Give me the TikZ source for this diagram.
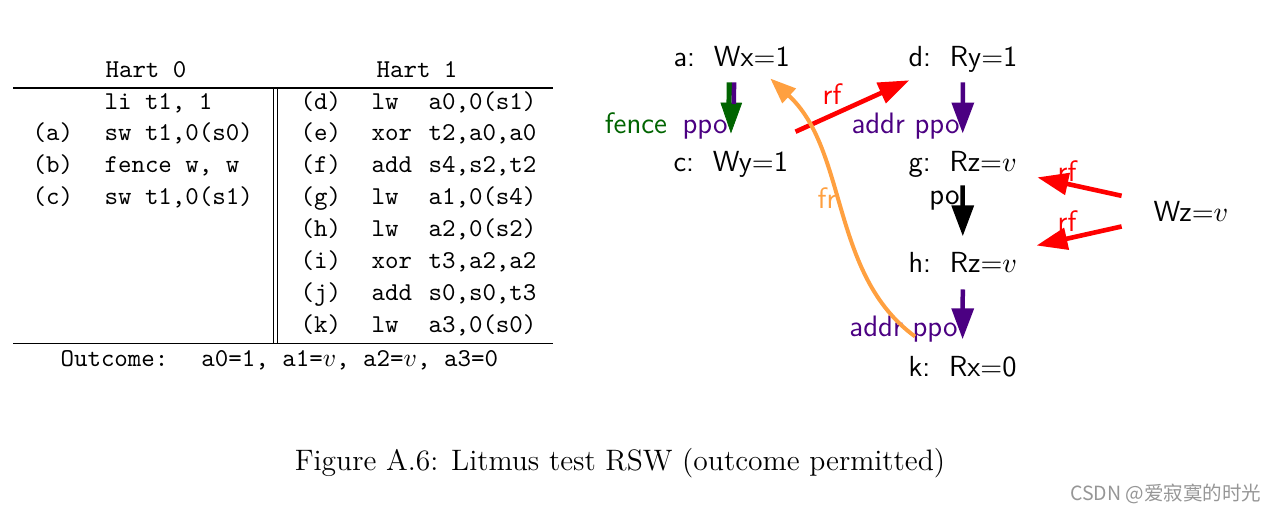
\documentclass[tikz,border=0pt]{standalone}
\usepackage{fontspec}
\newfontfamily\cjk{Noto Sans CJK SC}
\usetikzlibrary{arrows.meta}
\definecolor{fgreen}{RGB}{0,100,0}
\definecolor{ppurple}{RGB}{75,0,130}
\definecolor{forange}{RGB}{255,160,64}
\definecolor{wmgray}{RGB}{150,150,150}
\newcommand{\eq}{\ensuremath{\mathord{=}}}
\begin{document}
\begin{tikzpicture}[x=0.389pt,y=-0.389pt,
  tt/.style={anchor=base west,inner sep=0pt,font=\ttfamily},
  ev/.style={anchor=base west,inner sep=0pt,font=\fontsize{11.3}{13.5}\selectfont\sffamily,text height=7.8pt,text depth=0pt},
  lbl/.style={inner sep=0pt,font=\fontsize{11.5}{13.8}\selectfont\sffamily},
  hd/.style={-{Triangle[length=12pt,width=8.4pt]}},
  shaft/.style={line width=1.75pt},
  rfarrow/.style={red,line width=1.8pt,hd},
  pparrow/.style={ppurple,shaft,hd},
  poarrow/.style={black,shaft,hd},
  frarrow/.style={forange,line width=1.55pt,-{Triangle[length=10pt,width=7.5pt]}},
  rule/.style={line width=0.4pt}]
\useasboundingbox (0,0) rectangle (1277,513);

% ---------- table ----------
\node[tt,anchor=base] (h0) at (146,77) {Hart 0};
\node[tt,anchor=base] (h1) at (417,77) {Hart 1};
\draw[rule] (13,88) -- (553,88);
\draw[rule] (13,343) -- (553,343);
\draw[rule] (273.5,88) -- (273.5,343);
\draw[rule] (277.5,88) -- (277.5,343);

\node[tt] (l0) at (104,109) {li t1, 1};
\node[tt] (la) at (32,140.9) {(a)};
\node[tt] (l1) at (104,140.9) {sw t1,0(s0)};
\node[tt] (lb) at (32,172.8) {(b)};
\node[tt] (l2) at (104,172.8) {fence w, w};
\node[tt] (lc) at (32,204.7) {(c)};
\node[tt] (l3) at (104,204.7) {sw t1,0(s1)};

\node[tt] (rd) at (300,109) {(d)};
\node[tt] (md) at (371,109) {lw};
\node[tt] (od) at (428,109) {a0,0(s1)};
\node[tt] (re) at (300,140.9) {(e)};
\node[tt] (me) at (371,140.9) {xor};
\node[tt] (oe) at (428,140.9) {t2,a0,a0};
\node[tt] (rf) at (300,172.8) {(f)};
\node[tt] (mf) at (371,172.8) {add};
\node[tt] (of) at (428,172.8) {s4,s2,t2};
\node[tt] (rg) at (300,204.7) {(g)};
\node[tt] (mg) at (371,204.7) {lw};
\node[tt] (og) at (428,204.7) {a1,0(s4)};
\node[tt] (rh) at (300,236.6) {(h)};
\node[tt] (mh) at (371,236.6) {lw};
\node[tt] (oh) at (428,236.6) {a2,0(s2)};
\node[tt] (ri) at (300,268.5) {(i)};
\node[tt] (mi) at (371,268.5) {xor};
\node[tt] (oi) at (428,268.5) {t3,a2,a2};
\node[tt] (rj) at (300,300.4) {(j)};
\node[tt] (mj) at (371,300.4) {add};
\node[tt] (oj) at (428,300.4) {s0,s0,t3};
\node[tt] (rk) at (300,332.3) {(k)};
\node[tt] (mk) at (371,332.3) {lw};
\node[tt] (ok) at (428,332.3) {a3,0(s0)};

\node[tt] (out) at (60,366) {Outcome:\hspace{12.8pt}a0=1, a1=$v$, a2=$v$, a3=0};

% ---------- graph ----------
\node[ev] (a) at (673,66) {a:\ \ Wx\eq1};
\node[ev] (c) at (673,171) {c:\ \ Wy\eq1};
\node[ev] (d) at (908,66) {d:\ \ Ry\eq1};
\node[ev] (g) at (908,171) {g:\ \ Rz\eq$v$};
\node[ev] (h) at (908,272) {h:\ \ Rz\eq$v$};
\node[ev] (k) at (908,376) {k:\ \ Rx\eq0};
\node[ev] (wz) at (1153,221) {Wz\eq$v$};

% a -> c : fence (green) + ppo (purple), one head
\draw[fgreen,line width=0.3pt,hd,shorten <=6.2pt,shorten >=6.6pt] (a.south) -- (c.north);
\draw[fgreen,shaft,shorten <=6.2pt,shorten >=18pt] ([xshift=-1pt]a.south) -- ([xshift=-1pt]c.north);
\draw[ppurple,shaft,shorten <=6.2pt,shorten >=18pt] ([xshift=1pt]a.south) -- ([xshift=1pt]c.north);
\node[lbl,anchor=base east] (lfence) at (728,133) {\color{fgreen}fence\hspace{6pt}\color{ppurple}ppo};

% d -> g : addr ppo
\draw[pparrow,shorten <=6.2pt,shorten >=6.6pt] (d.south) -- (g.north);
\node[lbl,anchor=base east,text=ppurple] (laddr1) at (960,133) {addr ppo};

% g -> h : po
\draw[poarrow,shorten <=5.4pt,shorten >=5.9pt] (g.south) -- (h.north);
\node[lbl,anchor=base east] (lpo) at (960,204) {po};

% h -> k : addr ppo
\draw[pparrow,shorten <=6.6pt,shorten >=6.3pt] (h.south) -- (k.north);
\node[lbl,anchor=base east,text=ppurple] (laddr2) at (958,336) {addr ppo};

% c -> d : rf
\draw[rfarrow,shorten <=17.7pt,shorten >=13pt] (c) -- (d);
\node[lbl,text=red] (lrf1) at (832,94) {rf};

% Wz -> g, Wz -> h : rf
\draw[rfarrow,shorten <=12.5pt,shorten >=10.6pt] (wz) -- (g);
\draw[rfarrow,shorten <=12.5pt,shorten >=10.6pt] (wz) -- (h);
\node[lbl,text=red] (lrf2) at (1067,171) {rf};
\node[lbl,text=red] (lrf3) at (1067,221) {rf};

% k -> a : fr
\draw[frarrow] ([shift={(7,-19)}]k.north west) .. controls +(-85,-62) and +(78,72) .. ([shift={(-20,12)}]a.south east);
\node[lbl,text=forange] (lfr) at (827,198) {fr};

% ---------- caption ----------
\node[inner sep=0pt,anchor=base,font=\fontsize{11.5}{13.8}\selectfont\rmfamily] (cap) at (620,470) {Figure A.6: Litmus test RSW (outcome permitted)};
\node[inner sep=0pt,anchor=east,text=wmgray,font=\fontsize{7.6}{9}\selectfont\cjk] (wm) at (1262,494) {CSDN @爱寂寞的时光};
\end{tikzpicture}
\end{document}
